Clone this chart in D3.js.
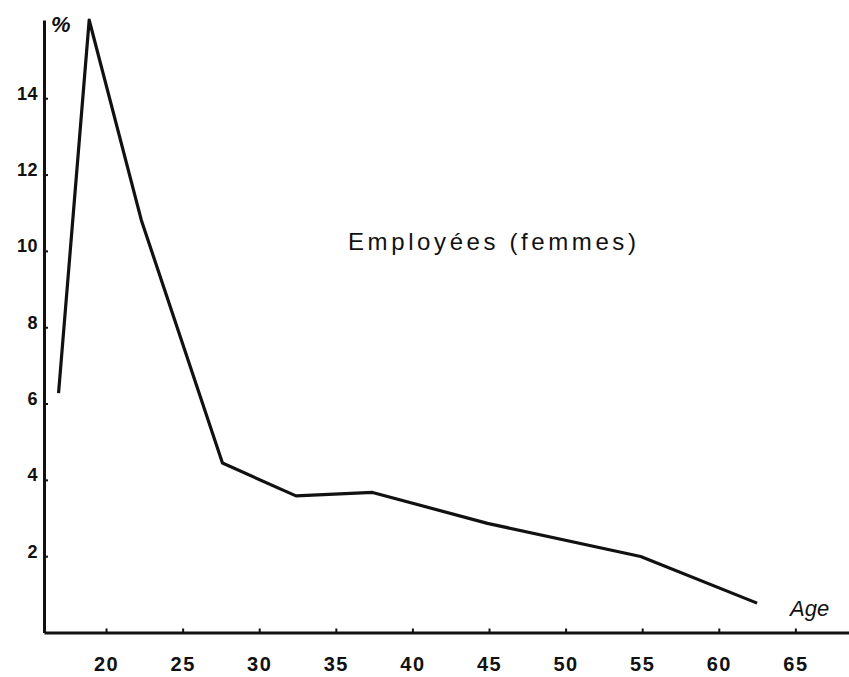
<!DOCTYPE html>
<html>
<head>
<meta charset="utf-8">
<script src="https://cdn.jsdelivr.net/npm/d3@7"></script>
<style>
  body { margin: 0; background: #fff; }
  svg { display: block; }
</style>
</head>
<body>
<div id="chart"></div>
<script>
// data
const ages = [16.9, 18.9, 22.3, 27.6, 32.4, 37.4, 44.9, 54.9, 62.5];
const shares = [6.27, 16.05, 10.81, 4.44, 3.58, 3.67, 2.86, 1.99, 0.77];
const xTicks = [20, 25, 30, 35, 40, 45, 50, 55, 60, 65];
const yTicks = [2, 4, 6, 8, 10, 12, 14];
const title = "Employées (femmes)";

let width = 849, height = 677;
let margin = {top: 20, right: 0, bottom: 44.5, left: 44};

let svg = d3.select("#chart").append("svg")
    .attr("width", width)
    .attr("height", height);

let xScale = d3.scaleLinear()
    .domain([15.95, 68.5])
    .range([margin.left, width - margin.right]);
let yScale = d3.scaleLinear()
    .domain([0, 16.05])
    .range([height - margin.bottom, margin.top]);

let xAxis = d3.axisBottom(xScale)
    .tickValues(xTicks)
    .tickSizeInner(-4)
    .tickSizeOuter(0);
let yAxis = d3.axisLeft(yScale)
    .tickValues(yTicks)
    .tickSizeInner(-4)
    .tickSizeOuter(0);

let gx = svg.append("g")
    .attr("transform", "translate(0," + yScale(0) + ")")
    .call(xAxis);
gx.select(".domain").attr("stroke", "#111").attr("stroke-width", 3);
gx.selectAll(".tick line").attr("stroke", "#111").attr("stroke-width", 2);
gx.selectAll(".tick text")
    .attr("y", 38.5)
    .attr("dy", 0)
    .attr("fill", "#111")
    .style("font-family", "'Liberation Sans', Arial, sans-serif")
    .style("font-weight", "bold")
    .style("font-size", "20px")
    .style("letter-spacing", "1.5px");

let gy = svg.append("g")
    .attr("transform", "translate(" + xScale(15.95) + ",0)")
    .call(yAxis);
gy.select(".domain").attr("stroke", "#111").attr("stroke-width", 3);
gy.selectAll(".tick line").attr("stroke", "#111").attr("stroke-width", 2);
gy.selectAll(".tick text")
    .attr("x", -6)
    .attr("dy", 1)
    .attr("fill", "#111")
    .style("font-family", "'Liberation Sans', Arial, sans-serif")
    .style("font-weight", "bold")
    .style("font-size", "18px")
    .style("letter-spacing", "0.5px");

// the curve
let line = d3.line()
    .x((d, i) => xScale(ages[i]))
    .y(d => yScale(d));

svg.append("path")
    .datum(shares)
    .attr("fill", "none")
    .attr("stroke", "#111")
    .attr("stroke-width", 3.2)
    .attr("stroke-linejoin", "round")
    .attr("d", line);

// labels
svg.append("text")
    .attr("x", 51)
    .attr("y", 32)
    .attr("fill", "#111")
    .style("font-family", "'Liberation Sans', Arial, sans-serif")
    .style("font-style", "italic")
    .style("font-weight", "bold")
    .style("font-size", "22px")
    .text("%");

svg.append("text")
    .attr("x", 790)
    .attr("y", 616)
    .attr("fill", "#111")
    .style("font-family", "'Liberation Sans', Arial, sans-serif")
    .style("font-style", "italic")
    .style("font-size", "22px")
    .text("Age");

svg.append("text")
    .attr("x", 348)
    .attr("y", 250)
    .attr("fill", "#111")
    .style("font-family", "'Liberation Sans', Arial, sans-serif")
    .style("font-size", "24px")
    .style("letter-spacing", "3.6px")
    .text(title);
</script>
</body>
</html>
